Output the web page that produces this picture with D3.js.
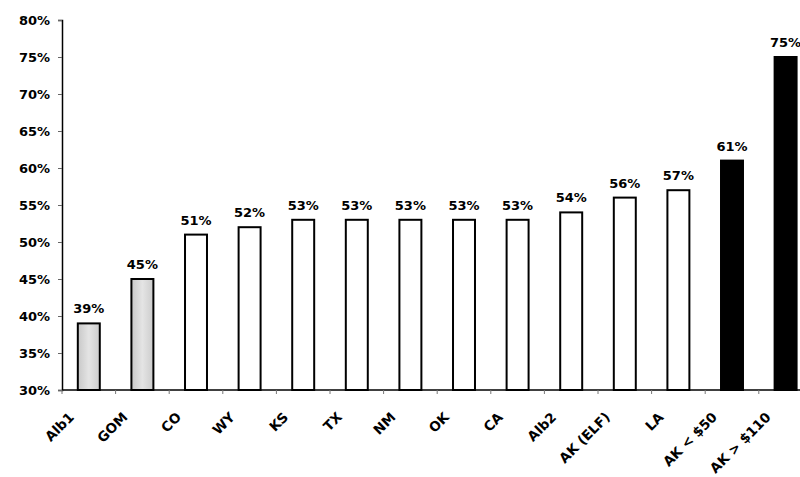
<!DOCTYPE html>
<html>
<head>
<meta charset="utf-8">
<script src="https://cdn.jsdelivr.net/npm/d3@7/dist/d3.min.js"></script>
<style>
  html, body { margin: 0; padding: 0; background: #fff; }
  svg { display: block; }
  text { font-family: "DejaVu Sans", "Liberation Sans", sans-serif; font-weight: bold; fill: #000; }
</style>
</head>
<body>
<svg id="chart" width="800" height="477"></svg>
<script>
// Share of cost by region (percent)
const categories = ["Alb1", "GOM", "CO", "WY", "KS", "TX", "NM", "OK", "CA", "Alb2", "AK (ELF)", "LA", "AK < $50", "AK > $110"];
const values = [39, 45, 51, 52, 53, 53, 53, 53, 53, 54, 56, 57, 61, 75];
const groups = ["offshore", "offshore", "lower48", "lower48", "lower48", "lower48", "lower48", "lower48", "lower48", "lower48", "lower48", "lower48", "alaska", "alaska"];
const yTicks = [30, 35, 40, 45, 50, 55, 60, 65, 70, 75, 80];

const svg = d3.select("#chart");
const W = 800, H = 477;
const mLeft = 62, mTop = 20, mBottom = 390, mRight = 812.4;

const fills = { offshore: "url(#grayFill)", lower48: "#ffffff", alaska: "#000000" };

const defs = svg.append("defs");
const grad = defs.append("linearGradient").attr("id", "grayFill")
  .attr("x1", "0%").attr("x2", "100%").attr("y1", "0%").attr("y2", "0%");
grad.append("stop").attr("offset", "0%").attr("stop-color", "#c8c8c8");
grad.append("stop").attr("offset", "50%").attr("stop-color", "#e4e4e4");
grad.append("stop").attr("offset", "100%").attr("stop-color", "#cccccc");

const x = d3.scaleBand().domain(categories).range([mLeft, mRight])
  .paddingInner(0.59).paddingOuter(0.295);
const y = d3.scaleLinear().domain([30, 80]).range([mBottom, mTop]);

// Bars
const data = categories.map((c, i) => ({ c, v: values[i], g: groups[i] }));
svg.append("g").selectAll("rect").data(data).join("rect")
  .attr("x", d => x(d.c))
  .attr("y", d => y(d.v))
  .attr("width", x.bandwidth())
  .attr("height", d => y(30) - y(d.v))
  .attr("fill", d => fills[d.g])
  .attr("stroke", "#000")
  .attr("stroke-width", 2);

// Value labels
svg.append("g").selectAll("text").data(data).join("text")
  .attr("x", d => x(d.c) + x.bandwidth() / 2)
  .attr("y", d => y(d.v) - 10)
  .attr("text-anchor", "middle")
  .attr("font-size", 13)
  .text(d => d.v + "%");

// Y axis
const yAxis = svg.append("g").attr("transform", `translate(${mLeft},0)`)
  .call(d3.axisLeft(y).tickValues(yTicks).tickSize(4).tickPadding(8).tickFormat(d => d + "%"));
yAxis.select(".domain").attr("stroke", "#000").attr("stroke-width", 1.5);
yAxis.selectAll(".tick line").attr("stroke", "#666");
yAxis.selectAll(".tick text").attr("font-size", 13)
  .attr("font-family", "DejaVu Sans").attr("font-weight", "bold");

// X axis: baseline with ticks on band boundaries
const xAxis = svg.append("g").attr("transform", `translate(0,${mBottom})`);
xAxis.append("line").attr("x1", mLeft).attr("x2", W).attr("y1", 0).attr("y2", 0)
  .attr("stroke", "#000").attr("stroke-width", 1.5);
const bounds = categories.map(c => x(c) + x.bandwidth() / 2 - x.step() / 2);
xAxis.selectAll("line.tk").data(bounds).join("line").attr("class", "tk")
  .attr("x1", d => d).attr("x2", d => d).attr("y1", 0).attr("y2", 4)
  .attr("stroke", "#777").attr("stroke-width", 1);

xAxis.selectAll("text").data(categories).join("text")
  .attr("transform", c => `translate(${x(c) + x.bandwidth() / 2 - 14},${28}) rotate(-45)`)
  .attr("text-anchor", "end")
  .attr("font-size", 13.5)
  .text(c => c);
</script>
</body>
</html>
